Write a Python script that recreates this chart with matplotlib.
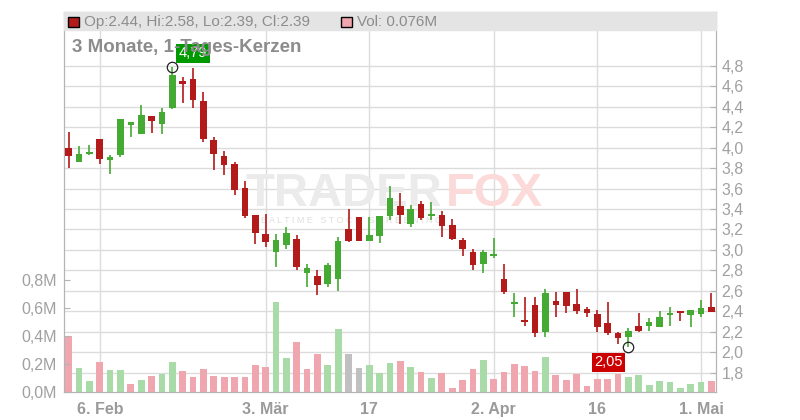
import matplotlib
matplotlib.use("Agg")
import matplotlib.pyplot as plt
import matplotlib.patches as mpatches
from matplotlib.ticker import FuncFormatter, FixedLocator
import pandas as pd

plt.rcParams["font.family"] = ["Liberation Sans", "DejaVu Sans"]

# trading days (US calendar: 17 Feb and 18 Apr closed)
days = pd.bdate_range("2025-02-03", "2025-05-02")
days = days[~days.isin(pd.to_datetime(["2025-02-17", "2025-04-18"]))]

opens = [4.00, 3.86, 3.935, 4.08, 3.88, 3.93, 4.23, 4.13, 4.31, 4.23,
         4.39, 4.65, 4.67, 4.45, 4.07, 3.92, 3.84, 3.61, 3.34, 3.16,
         2.98, 3.05, 3.11, 2.78, 2.75, 2.665, 2.72, 3.20, 3.32, 3.09,
         3.14, 3.33, 3.43, 3.25, 3.45, 3.33, 3.345, 3.24, 3.10, 2.98,
         2.86, 2.94, 2.72, 2.47, 2.32, 2.46, 2.20, 2.50, 2.585, 2.47,
         2.42, 2.37, 2.29, 2.185, 2.15, 2.26, 2.26, 2.25, 2.365, 2.40,
         2.365, 2.375, 2.44]
highs = [4.15, 4.02, 4.03, 4.08, 3.93, 4.28, 4.25, 4.42, 4.31, 4.39,
         4.79, 4.69, 4.78, 4.54, 4.10, 3.97, 3.86, 3.67, 3.34, 3.35,
         3.16, 3.22, 3.15, 2.86, 2.80, 2.87, 3.13, 3.40, 3.32, 3.32,
         3.33, 3.62, 3.56, 3.44, 3.48, 3.47, 3.38, 3.30, 3.12, 3.01,
         3.00, 3.12, 2.86, 2.58, 2.54, 2.54, 2.62, 2.585, 2.585, 2.62,
         2.44, 2.41, 2.49, 2.195, 2.24, 2.38, 2.34, 2.40, 2.44, 2.405,
         2.41, 2.51, 2.58]
lows = [3.80, 3.86, 3.93, 3.84, 3.74, 3.91, 4.10, 4.13, 4.14, 4.13,
        4.38, 4.44, 4.39, 4.05, 3.78, 3.73, 3.54, 3.31, 3.06, 3.03,
        2.83, 3.01, 2.80, 2.64, 2.56, 2.64, 2.60, 3.08, 3.09, 3.09,
        3.07, 3.29, 3.25, 3.22, 3.29, 3.29, 3.13, 3.10, 2.945, 2.80,
        2.78, 2.92, 2.57, 2.35, 2.26, 2.15, 2.15, 2.345, 2.38, 2.37,
        2.345, 2.20, 2.17, 2.08, 2.05, 2.195, 2.205, 2.245, 2.26, 2.31,
        2.25, 2.35, 2.39]
closes = [3.92, 3.94, 3.96, 3.89, 3.91, 4.28, 4.24, 4.32, 4.26, 4.35,
          4.71, 4.62, 4.46, 4.08, 3.94, 3.83, 3.59, 3.33, 3.17, 3.08,
          3.10, 3.17, 2.83, 2.82, 2.66, 2.857, 3.09, 3.09, 3.09, 3.15,
          3.33, 3.51, 3.34, 3.40, 3.31, 3.345, 3.23, 3.11, 3.01, 2.85,
          2.98, 2.96, 2.59, 2.49, 2.30, 2.19, 2.58, 2.46, 2.455, 2.40,
          2.385, 2.25, 2.19, 2.14, 2.205, 2.21, 2.30, 2.35, 2.38, 2.385,
          2.41, 2.43, 2.39]
# volume in millions
volumes = [0.404, 0.174, 0.081, 0.217, 0.160, 0.160, 0.060, 0.088, 0.117, 0.131,
           0.217, 0.153, 0.110, 0.167, 0.117, 0.110, 0.110, 0.110, 0.196, 0.181,
           0.647, 0.246, 0.361, 0.167, 0.275, 0.196, 0.454, 0.275, 0.174, 0.196,
           0.139, 0.210, 0.224, 0.181, 0.146, 0.103, 0.139, 0.031, 0.088, 0.167,
           0.232, 0.096, 0.146, 0.203, 0.189, 0.153, 0.253, 0.124, 0.088, 0.131,
           0.045, 0.096, 0.096, 0.131, 0.110, 0.124, 0.053, 0.081, 0.074, 0.031,
           0.060, 0.074, 0.076]

tick_dates = ["2025-02-06", "2025-03-03", "2025-03-17", "2025-04-02", "2025-04-16", "2025-05-01"]
tick_labels = ["6. Feb", "3. Mär", "17", "2. Apr", "16", "1. Mai"]

UP, DOWN = "#44aa33", "#b31a1a"
VUP, VDOWN, VFLAT = "#a8dba8", "#f0a6ae", "#c0c0c0"
GRID, SPINE, LBL = "#dcdcdc", "#b4b4b4", "#a0a0a0"

n = len(days)
idx = list(range(n))

def px(x, y):
    # pixel position from top-left -> figure fraction
    return x / 800, 1 - y / 420

fig = plt.figure(figsize=(8, 4.2), dpi=100)
ax = fig.add_axes([64/800, 28/420, 652/800, 380/420])
axv = ax.twinx()

# price axis (right), grid lives here
ax.set_xlim(-0.45, n - 0.55)
ax.set_ylim(1.613, 5.324)
ax.yaxis.tick_right()
ax.yaxis.set_major_locator(FixedLocator([1.8 + 0.2*k for k in range(16)]))
ax.yaxis.set_major_formatter(FuncFormatter(lambda v, p: f"{v:.1f}".replace(".", ",")))
ax.tick_params(axis="y", direction="in", length=4, color=SPINE, labelcolor=LBL,
               labelsize=11.5, pad=4, right=True, left=False)
tick_pos = [list(days).index(pd.Timestamp(d)) for d in tick_dates]
ax.set_xticks(tick_pos)
ax.set_xticklabels(tick_labels, fontweight="bold")
ax.tick_params(axis="x", length=0, labelcolor="#9a9a9a", labelsize=11.5, pad=7)
ax.grid(True, color=GRID, lw=1)
ax.set_axisbelow(True)

# volume axis (left)
axv.set_ylim(0, 2.724)
axv.yaxis.tick_left()
axv.yaxis.set_major_locator(FixedLocator([0, 0.2, 0.4, 0.6, 0.8]))
axv.yaxis.set_major_formatter(FuncFormatter(lambda v, p: f"{v:.1f}M".replace(".", ",")))
axv.tick_params(axis="y", direction="in", length=4, color=SPINE, labelcolor=LBL,
                labelsize=11.5, pad=5, left=True, right=False)
for a in (ax, axv):
    for s in a.spines.values():
        s.set_color(SPINE)

# watermark
ax.text(*px(246, 206), "TRADER", transform=fig.transFigure, fontsize=34,
        fontweight="bold", color="#ebebeb", zorder=0.6)
ax.text(*px(446, 206), "FOX", transform=fig.transFigure, fontsize=34,
        fontweight="bold", color="#fcdada", zorder=0.6)
ax.text(*px(252, 223), "R E A L T I M E   S T O C K   S C R E E N I N G",
        transform=fig.transFigure, fontsize=6.5, color="#dedede", zorder=0.6)

# volume bars
vcols = []
for i in idx:
    ref = opens[i] if i == 0 else closes[i - 1]
    if closes[i] > ref:
        vcols.append(VUP)
    elif closes[i] < ref:
        vcols.append(VDOWN)
    else:
        vcols.append(VFLAT)
axv.bar(idx, volumes, width=0.65, color=vcols, zorder=1)

# candles drawn on top axis
for i in idx:
    col = UP if closes[i] >= opens[i] else DOWN
    axv.plot([i, i], [lows[i], highs[i]], color=col, lw=1.2, zorder=3,
             transform=ax.transData, solid_capstyle="butt")
    lo, hi = min(opens[i], closes[i]), max(opens[i], closes[i])
    if hi - lo < 0.02:
        m = (hi + lo) / 2
        lo, hi = m - 0.01, m + 0.01
    axv.add_patch(mpatches.Rectangle((i - 0.32, lo), 0.64, hi - lo, color=col,
                                     zorder=4, transform=ax.transData, lw=0))

# max / min markers
imax = highs.index(max(highs))
imin = lows.index(min(lows))
for i, v, fc, off in [(imax, highs[imax], "#009900", (20.5, 13.5)),
                      (imin, lows[imin], "#cc0000", (-20, -15))]:
    axv.plot([i], [v], "o", ms=7.5, mfc="none", mec="#222222", mew=0.9,
             transform=ax.transData, zorder=6)
    axv.annotate(f"{v:.2f}".replace(".", ","), xy=(i, v), xycoords=ax.transData,
                 xytext=(off[0]*0.72, off[1]*0.72), textcoords="offset points",
                 ha="center", va="center", color="white", fontsize=10.5, zorder=7,
                 bbox=dict(boxstyle="square,pad=0.18", fc=fc, ec="none"))

# header band
axv.add_patch(mpatches.Rectangle((0, (392 - 30) / 380), 1, 18 / 380,
                                 transform=ax.transAxes, color="#e4e4e4",
                                 zorder=5, clip_on=False))
fig.patches.append(mpatches.Rectangle(px(68, 27), 11/800, 10/420,
                                      transform=fig.transFigure, fc=DOWN, ec="black", lw=1))
fig.patches.append(mpatches.Rectangle(px(341, 27), 11/800, 10/420,
                                      transform=fig.transFigure, fc=VDOWN, ec="black", lw=1))
o, h, l, c = opens[-1], highs[-1], lows[-1], closes[-1]
fig.text(*px(84, 22), f"Op:{o:.2f}, Hi:{h:.2f}, Lo:{l:.2f}, Cl:{c:.2f}",
         fontsize=11, color="#8c8c8c", va="center")
fig.text(*px(357, 22), f"Vol: {volumes[-1]:.3f}M", fontsize=11,
         color="#8c8c8c", va="center")
fig.text(*px(72, 48), "3 Monate, 1-Tages-Kerzen", fontsize=13.5,
         fontweight="bold", color="#8c8c8c", va="center", zorder=8)

fig.savefig("out.png", dpi=100)
